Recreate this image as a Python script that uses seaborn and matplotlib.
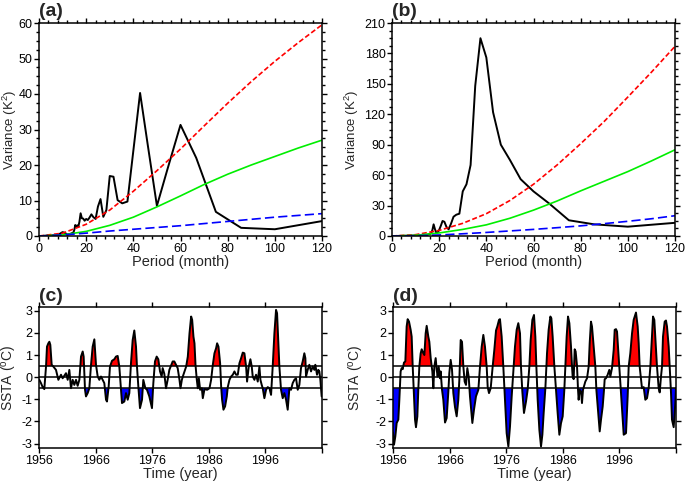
import numpy as np
import matplotlib
matplotlib.use("Agg")
import matplotlib.pyplot as plt
import seaborn as sns
from matplotlib.ticker import MultipleLocator, AutoMinorLocator

# ---- spectra (periods in months) ----
period = [120, 100, 85.71, 75, 66.67, 60, 54.55, 50, 46.15, 42.86, 40, 37.5, 35.29, 33.33,
          31.58, 30, 28.57, 27.27, 26.09, 25, 24, 23.08, 22.22, 21.43, 20.69, 20, 19.35,
          18.75, 18.18, 17.65, 17.14, 16.67, 16.22, 15.79, 15.38, 15, 14.63, 14.29, 13.95,
          13.64, 13.33, 13.04, 12.77, 12.5, 12.24, 12, 10.91, 10, 8, 6, 4, 2]
var_a = [4.2, 1.9, 2.3, 6.8, 22.0, 31.3, 19.0, 8.5, 25.5, 40.3, 24.0, 9.7, 9.2, 10.1,
         16.7, 16.9, 7.3, 5.4, 10.4, 8.3, 4.8, 5.3, 6.1, 5.2, 4.5, 4.8, 4.3,
         4.9, 5.0, 6.4, 4.0, 2.6, 3.0, 2.6, 3.1, 1.8, 1.0, 0.9, 0.8,
         0.7, 0.6, 0.6, 0.5, 0.5, 0.4, 0.4, 0.9, 1.1, 0.3, 0.2, 0.1, 0.05]
var_b = [13, 9.2, 11.5, 15.5, 32, 44, 56, 75, 90, 122, 176, 195, 148, 70,
         51, 44, 22, 21, 19, 12, 6.6, 9, 14, 14.8, 10, 6, 3.5,
         3.3, 7, 11.5, 6, 3, 2, 2, 1.5, 1.2, 1.0, 0.9, 0.8,
         0.8, 0.7, 0.7, 0.6, 0.6, 0.5, 0.5, 0.6, 0.5, 0.3, 0.2, 0.1, 0.05]

# significance / noise curves
curve_x = [0, 10, 20, 30, 40, 50, 60, 70, 80, 90, 100, 110, 120]
red_a = [0, 0.8, 3.3, 7.3, 12.6, 18.4, 24.5, 31.0, 37.4, 43.5, 49.2, 54.5, 59.5]
green_a = [0, 0.3, 1.3, 3.0, 5.3, 8.2, 11.3, 14.5, 17.4, 20.0, 22.4, 24.8, 27.0]
blue_a = [0, 0.3, 0.8, 1.4, 1.9, 2.4, 2.9, 3.5, 4.1, 4.7, 5.3, 5.8, 6.3]
red_b = [0, 1.3, 5.5, 12.5, 22, 35, 51, 70, 91, 113, 137, 161.5, 187]
green_b = [0, 0.7, 3, 6.5, 11, 17.5, 25.5, 34.5, 44.5, 54, 63.5, 74, 85]
blue_b = [0, 0.3, 1.0, 2.2, 3.5, 5.0, 6.5, 8.2, 10, 12.2, 14.5, 17, 20]

# ---- SSTA time series ----
year_c = [1956.06, 1956.35, 1956.65, 1956.94, 1957.24, 1957.41, 1957.65, 1957.83, 1958.00, 1958.24,
          1958.53, 1959.00, 1959.42, 1959.89, 1960.18, 1960.77, 1961.07, 1961.36, 1961.65, 1961.95,
          1962.24, 1962.54, 1962.83, 1963.13, 1963.42, 1963.72, 1963.89, 1964.13, 1964.30, 1964.60,
          1964.89, 1965.19, 1965.48, 1965.78, 1966.07, 1966.37, 1966.66, 1966.95, 1967.25, 1967.54,
          1967.84, 1968.01, 1968.31, 1968.54, 1968.90, 1969.31, 1969.60, 1969.90, 1970.19, 1970.49,
          1970.66, 1971.08, 1971.37, 1971.67, 1971.96, 1972.25, 1972.55, 1972.84, 1973.14, 1973.31,
          1973.55, 1973.84, 1974.20, 1974.43, 1974.79, 1975.08, 1975.49, 1975.96, 1976.20, 1976.49,
          1976.79, 1977.08, 1977.38, 1977.67, 1977.85, 1978.14, 1978.44, 1978.73, 1979.03, 1979.62,
          1979.91, 1980.20, 1980.50, 1980.82, 1981.00, 1981.24, 1981.41, 1981.71, 1982.00, 1982.29,
          1982.59, 1982.88, 1983.06, 1983.29, 1983.47, 1983.65, 1983.88, 1984.06, 1984.24, 1984.47,
          1984.77, 1984.94, 1985.24, 1985.71, 1986.12, 1986.41, 1986.71, 1987.00, 1987.29, 1987.47,
          1987.71, 1988.00, 1988.18, 1988.35, 1988.59, 1988.88, 1989.18, 1989.35, 1989.65, 1989.94,
          1990.24, 1990.53, 1990.82, 1991.12, 1991.41, 1991.71, 1992.00, 1992.29, 1992.59, 1992.76,
          1993.06, 1993.35, 1993.59, 1993.76, 1994.06, 1994.35, 1994.65, 1994.94, 1995.12, 1995.35,
          1995.53, 1995.82, 1996.12, 1996.41, 1996.71, 1997.00, 1997.29, 1997.59, 1997.88, 1998.06,
          1998.29, 1998.47, 1998.76, 1999.06, 1999.35, 1999.65, 1999.94, 2000.24, 2000.53, 2000.82,
          2001.12, 2001.41, 2001.71, 2002.00, 2002.29, 2002.59, 2002.88, 2003.06, 2003.18, 2003.47,
          2003.76, 2004.06, 2004.35, 2004.65, 2004.82, 2005.12, 2005.35, 2005.53, 2005.71, 2005.94]
ssta_c = [-0.12, -0.27, -0.45, -0.54, 0.48, 1.38, 1.53, 1.60, 1.46, 0.56,
          0.48, 0.33, -0.12, 0.11, -0.05, 0.18, -0.12, 0.33, -0.50, -0.12,
          -0.35, -0.12, -0.39, -0.12, 0.93, 1.16, 0.93, -0.57, -0.87, -0.72,
          -0.50, 0.56, 1.38, 1.71, 0.56, 0.03, -0.12, 0.03, -0.12, -0.27,
          -1.02, -1.10, -0.42, 0.48, 0.74, 0.81, 0.93, 0.96, 0.48, -0.57,
          -1.17, -1.10, -0.72, -1.02, -0.72, 0.63, 1.68, 2.11, 1.38, 0.48,
          -0.42, -1.40, -1.02, -0.12, -0.50, -0.57, -0.87, -1.40, -0.27, 0.71,
          0.93, 0.81, 0.26, 0.03, 0.41, 0.15, -0.50, -0.12, 0.33, 0.71,
          0.71, 0.56, 0.41, -0.12, -0.50, -0.12, 0.03, 0.26, 0.48, 0.93,
          1.98, 2.74, 2.59, 1.83, 1.53, 0.56, -0.12, -0.50, -0.05, -0.57,
          -0.50, -0.95, -0.54, -0.57, -0.50, -0.12, 0.56, 1.08, 1.31, 1.53,
          1.38, 0.63, -0.42, -1.02, -1.47, -1.32, -0.87, -0.45, -0.12, 0.03,
          0.11, 0.26, 0.11, 0.11, 0.63, 0.86, 1.11, 1.08, 0.48, -0.20,
          0.48, 0.81, 0.48, 0.03, -0.12, 0.11, -0.20, 0.48, -0.12, -0.35,
          -0.50, -0.95, -0.57, -0.45, -0.50, -0.80, 0.48, 1.98, 3.04, 2.89,
          1.53, 0.48, -0.57, -0.95, -0.72, -1.02, -1.47, -0.50, -0.57, -0.27,
          -0.12, -0.05, -0.57, -0.35, 0.41, 0.71, 1.08, 0.86, 0.03, 0.33,
          0.56, 0.26, 0.48, 0.33, 0.56, 0.11, 0.33, 0.26, -0.12, -0.87]

year_d = [1956.00, 1956.18, 1956.41, 1956.65, 1956.94, 1957.12, 1957.35, 1957.53, 1957.71, 1957.94,
          1958.18, 1958.41, 1958.59, 1958.83, 1959.12, 1959.30, 1959.47, 1959.71, 1959.89, 1960.06,
          1960.30, 1960.48, 1960.65, 1960.89, 1961.07, 1961.36, 1961.54, 1961.77, 1961.95, 1962.24,
          1962.42, 1962.66, 1962.95, 1963.13, 1963.30, 1963.54, 1963.72, 1963.89, 1964.07, 1964.30,
          1964.42, 1964.66, 1964.89, 1965.19, 1965.48, 1965.78, 1965.95, 1966.19, 1966.42, 1966.66,
          1966.95, 1967.25, 1967.54, 1967.72, 1967.96, 1968.19, 1968.43, 1968.66, 1968.90, 1969.13,
          1969.37, 1969.60, 1970.02, 1970.31, 1970.66, 1971.08, 1971.37, 1971.67, 1971.96, 1972.25,
          1972.55, 1972.73, 1972.96, 1973.26, 1973.61, 1973.90, 1974.20, 1974.43, 1974.73, 1974.90,
          1975.20, 1975.49, 1975.79, 1976.08, 1976.38, 1976.67, 1976.97, 1977.26, 1977.55, 1977.85,
          1978.14, 1978.44, 1978.61, 1978.85, 1979.14, 1979.50, 1979.79, 1980.09, 1980.32, 1980.62,
          1980.91, 1981.15, 1981.33, 1981.56, 1981.86, 1982.15, 1982.39, 1982.62, 1982.92, 1983.21,
          1983.50, 1983.80, 1983.98, 1984.21, 1984.51, 1984.80, 1985.09, 1985.39, 1985.68, 1985.98,
          1986.27, 1986.45, 1986.68, 1986.92, 1987.16, 1987.45, 1987.63, 1987.74, 1987.92, 1988.10,
          1988.27, 1988.51, 1988.69, 1988.80, 1988.98, 1989.22, 1989.39, 1989.57, 1989.81, 1989.98,
          1990.28, 1990.57, 1990.75, 1990.98, 1991.16, 1991.46, 1991.75, 1991.93, 1992.22, 1992.52,
          1992.75, 1993.05, 1993.28, 1993.40, 1993.63, 1993.93, 1994.22, 1994.40, 1994.69, 1994.99,
          1995.17, 1995.40, 1995.58, 1995.75, 1995.99, 1996.23, 1996.46, 1996.76, 1997.17, 1997.46,
          1997.64, 1997.93, 1998.23, 1998.52, 1998.93, 1999.23, 1999.41, 1999.58, 1999.82, 1999.99,
          2000.29, 2000.58, 2000.88, 2001.17, 2001.47, 2001.76, 2001.94, 2002.17, 2002.47, 2002.64,
          2002.94, 2003.12, 2003.35, 2003.53, 2003.70, 2004.00, 2004.23, 2004.41, 2004.71, 2004.88,
          2005.12, 2005.29, 2005.59, 2005.88, 2006.00]
ssta_d = [-2.50, -3.05, -2.68, -2.07, -1.92, -1.02, 0.26, 0.41, 0.36, 0.66,
          0.71, 2.29, 2.62, 2.51, 2.14, 1.83, 0.56, -0.87, -1.92, -2.26,
          -1.78, -0.50, 0.48, 1.08, 1.26, 1.08, 1.00, 1.98, 2.32, 1.83,
          1.60, 0.86, 0.26, -0.50, 0.48, 0.86, 0.33, 0.03, 0.48, -0.05,
          0.26, -0.57, -1.02, -2.05, -1.85, -0.65, 0.18, 0.78, 0.36, -0.72,
          -1.35, -1.77, -1.02, -0.12, 1.68, 1.60, 0.48, -0.20, -0.35, 0.41,
          0.03, -0.87, -2.07, -1.47, -0.87, -0.57, 0.48, 1.38, 1.91, 1.38,
          0.48, -0.45, -0.72, -0.50, 0.48, 1.23, 2.11, 2.29, 2.59, 2.62,
          1.83, 0.48, -1.02, -2.53, -3.13, -2.23, -0.87, 0.26, 1.38, 2.14,
          2.44, 1.98, 0.48, -0.65, -1.62, -1.10, -0.57, 0.48, 1.68, 2.59,
          2.81, 1.83, 0.48, -1.02, -2.38, -3.13, -2.60, -1.62, -0.50, 1.08,
          2.14, 2.74, 2.66, 1.83, 0.48, -0.57, -1.62, -2.60, -2.08, -1.77,
          -0.57, 0.48, 1.83, 2.74, 2.44, 1.38, 0.48, 0.03, -0.09, 1.26,
          1.16, 0.51, -0.57, -1.02, -0.57, -0.65, -1.17, -0.57, -0.35, -0.20,
          -0.05, 0.48, 1.53, 2.51, 2.29, 1.38, 0.48, -0.57, -1.47, -2.45,
          -1.92, -1.32, -0.57, -0.09, -0.05, 0.11, 0.33, 0.03, 0.41, 1.23,
          2.14, 2.17, 2.06, 1.38, 0.48, -0.50, -1.47, -2.60, -2.53, -0.87,
          0.48, 1.08, 1.98, 2.59, 2.92, 2.29, 1.53, 0.48, -0.12, -0.50,
          -0.45, -1.02, -0.95, -0.50, 0.48, 1.83, 2.74, 2.59, 1.23, 0.48,
          -0.50, -0.69, 0.03, 0.48, 1.83, 2.51, 2.56, 2.29, 1.38, 0.48,
          -0.72, -1.92, -2.26, -1.17, -0.50]

sns.set_style("ticks")
plt.rcParams['font.family'] = ['Liberation Sans', 'DejaVu Sans']
plt.rcParams['mathtext.default'] = 'regular'
plt.rcParams['axes.unicode_minus'] = False
plt.rcParams['axes.linewidth'] = 1.1

fig = plt.figure(figsize=(6.85, 4.83), dpi=100)
W, H = 685, 483


def box(l, t, r, b):
    return [l / W, 1 - b / H, (r - l) / W, (b - t) / H]


def style_axes(ax):
    ax.tick_params(which='both', direction='out', top=True, right=True,
                   labelsize=9, width=1.0, colors='black', pad=1.2)
    ax.tick_params(which='major', length=3.5)
    ax.tick_params(which='minor', length=2)
    for s in ax.spines.values():
        s.set_visible(True)
        s.set_color('black')


def spectrum(ax, var, red, green, blue, ymax, ystep, label, ylab_x):
    sns.lineplot(x=period, y=var, ax=ax, color='black', lw=1.4)
    sns.lineplot(x=curve_x, y=red, ax=ax, color='#ff0000', lw=1.2,
                 linestyle=(0, (3, 1.5)))
    sns.lineplot(x=curve_x, y=green, ax=ax, color='#00ee00', lw=1.2)
    sns.lineplot(x=curve_x, y=blue, ax=ax, color='#0000ff', lw=1.2,
                 linestyle=(0, (5.5, 2.5)))
    ax.set_xlim(0, 120)
    ax.set_ylim(0, ymax)
    ax.xaxis.set_major_locator(MultipleLocator(20))
    ax.yaxis.set_major_locator(MultipleLocator(ystep))
    ax.xaxis.set_minor_locator(AutoMinorLocator(5))
    ax.yaxis.set_minor_locator(AutoMinorLocator(4))
    ax.set_xlabel('Period (month)', fontsize=10.5)
    ax.set_ylabel('Variance (K$^2$)', fontsize=9.5)
    ax.xaxis.set_label_coords(0.5, -0.088)
    ax.yaxis.set_label_coords(ylab_x, 0.5)
    style_axes(ax)
    ax.text(0.0, 1.015, label, transform=ax.transAxes, fontsize=14,
            fontweight='bold', ha='left', va='bottom')


def ssta(ax, t, v, label, ylab_x):
    t = np.array(t)
    v = np.array(v)
    ax.fill_between(t, 0.5, v, where=v > 0.5, interpolate=True, color='#ff0000', lw=0)
    ax.fill_between(t, -0.5, v, where=v < -0.5, interpolate=True, color='#0000ff', lw=0)
    for h in (-0.5, 0, 0.5):
        ax.axhline(h, color='black', lw=1.1)
    sns.lineplot(x=t, y=v, ax=ax, color='black', lw=1.4)
    ax.set_xlim(1956, 2006)
    ax.set_ylim(-3.2, 3.17)
    ax.set_xticks([1956, 1966, 1976, 1986, 1996, 2006])
    ax.set_xticklabels(['1956', '1966', '1976', '1986', '1996', ''])
    ax.set_yticks([-3, -2, -1, 0, 1, 2, 3])
    ax.set_xlabel('Time (year)', fontsize=10.5)
    ax.set_ylabel('SSTA ($^o$C)', fontsize=10)
    ax.xaxis.set_label_coords(0.5, -0.135)
    ax.yaxis.set_label_coords(ylab_x, 0.5)
    style_axes(ax)
    ax.text(0.0, 1.015, label, transform=ax.transAxes, fontsize=14,
            fontweight='bold', ha='left', va='bottom')


ax_a = fig.add_axes(box(39, 23, 322, 236))
ax_b = fig.add_axes(box(392, 23, 675, 236))
ax_c = fig.add_axes(box(39, 307, 322, 448))
ax_d = fig.add_axes(box(393, 307, 676, 448))

spectrum(ax_a, var_a, red_a, green_a, blue_a, 60, 10, '(a)', -0.07)
spectrum(ax_b, var_b, red_b, green_b, blue_b, 210, 30, '(b)', -0.108)
ssta(ax_c, year_c, ssta_c, '(c)', -0.07)
ssta(ax_d, year_d, ssta_d, '(d)', -0.095)

fig.savefig('out.png', dpi=100)
